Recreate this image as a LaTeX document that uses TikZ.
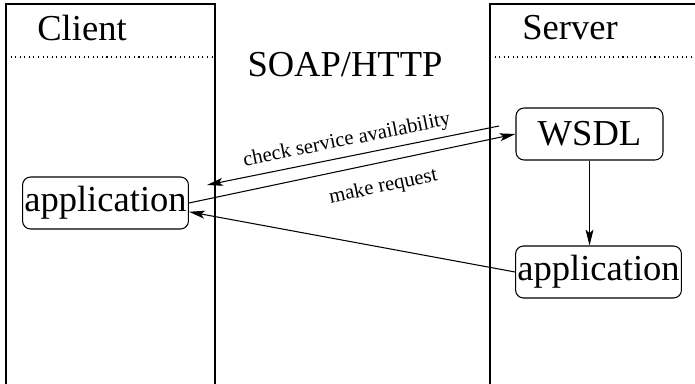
\documentclass[tikz,border=0pt]{standalone}
\usepackage{fontspec}
\setmainfont{Liberation Serif}
\usetikzlibrary{arrows.meta}

\tikzset{
  bigtext/.style={font=\fontsize{20.8}{24}\selectfont},
  smalltext/.style={font=\fontsize{11.8}{14}\selectfont},
  appbox/.style={draw, rounded corners=1.6mm, bigtext, inner xsep=1pt,
                 minimum height=1.04cm},
}

\begin{document}
\begin{tikzpicture}[x=0.02cm, y=-0.02cm, line width=0.6pt,
                    >={Stealth[length=9pt, width=4.5pt, inset=2pt]}]
    \useasboundingbox (0,0) rectangle (695,384);

    % Client und Server Bereiche
    \draw (6,384) -- (6,4) -- (215,4) -- (215,384);
    \draw (490,384) -- (490,4) -- (695,4);
    \draw[dotted] (6,57) -- (215,57);
    \draw[dotted] (490,57) -- (695,57);

    \node[bigtext] (client) at (82,28) {Client};
    \node[bigtext] (server) at (570,28) {Server};
    \node[bigtext] (soap) at (345,65) {SOAP/HTTP};

    % Knoten
    \node[appbox, minimum width=2.94cm] (wsdl) at (589.5,134) {WSDL};
    \node[appbox, minimum width=3.3cm] (sapp) at (598.5,272) {application};
    \node[appbox, minimum width=3.3cm] (capp) at (105.5,203) {application};

    % Verbindungen
    \coordinate (chkS) at (499,126);
    \coordinate (chkE) at (207,185);
    \draw[->] (chkS) -- (chkE)
        node[pos=0.51, sloped, above, smalltext] (chklabel) {check service availability};
    \draw[->] (capp.east) -- (wsdl.west)
        node[pos=0.58, sloped, below=5pt, smalltext] (reqlabel) {make request};
    \draw[->] (sapp.west) -- (capp.-6);
    \draw[->] (wsdl.south) -- (sapp.north -| wsdl.south);
\end{tikzpicture}
\end{document}
